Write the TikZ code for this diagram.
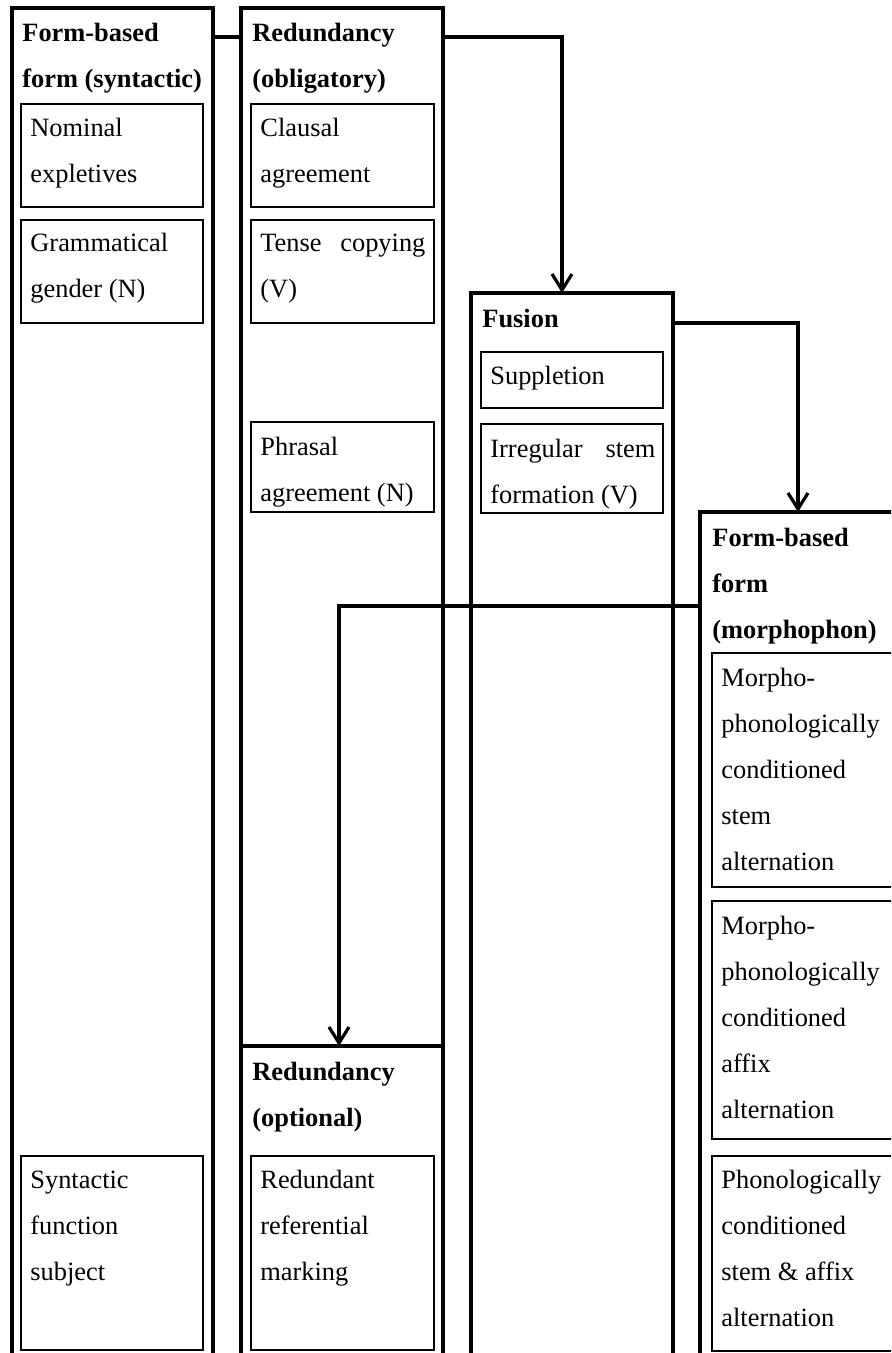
\documentclass[tikz,border=0pt]{standalone}
\usepackage{fontspec}
\setmainfont{Liberation Serif}
\usetikzlibrary{arrows.meta}
\begin{document}
\begin{tikzpicture}[x=0.5pt,y=-0.5pt,
  every node/.style={font=\fontsize{13.2pt}{23pt}\selectfont},
  obox/.style={draw, line width=1.6pt, rectangle, inner sep=0pt, outer sep=0pt, anchor=north west},
  ibox/.style={draw, line width=0.8pt, rectangle, inner sep=0pt, outer sep=0pt, anchor=north west},
  hd/.style={anchor=base west, inner sep=0pt, font=\fontsize{13.2pt}{23pt}\selectfont\bfseries},
  tx/.style={anchor=base west, inner sep=0pt},
  conn/.style={line width=1.6pt},
  arr/.style={conn, -{Straight Barb[length=8pt,width=10pt]}}]
\useasboundingbox (0,0) rectangle (891,1353);
\clip (0,0) rectangle (891,1353);
% outer boxes
\node[obox, minimum width=100.5pt, minimum height=686pt] (c1) at (12,8) {};
\node[obox, minimum width=101pt, minimum height=519pt] (c2) at (241,8) {};
\node[obox, minimum width=101pt, minimum height=167pt] (c2b) at (241,1046) {};
\node[obox, minimum width=101pt, minimum height=543.5pt] (fus) at (471,293) {};
\node[obox, minimum width=115pt, minimum height=434pt] (c4) at (700,512) {};
% inner boxes
\node[ibox, minimum width=91pt, minimum height=51.5pt] (n1a) at (21,104) {};
\node[ibox, minimum width=91pt, minimum height=51.5pt] (n1b) at (21,220) {};
\node[ibox, minimum width=91pt, minimum height=97pt] (n1c) at (21,1156) {};
\node[ibox, minimum width=91.5pt, minimum height=51.5pt] (n2a) at (251,104) {};
\node[ibox, minimum width=91.5pt, minimum height=51.5pt] (n2b) at (251,220) {};
\node[ibox, minimum width=91.5pt, minimum height=45pt] (n2c) at (251,422) {};
\node[ibox, minimum width=91.5pt, minimum height=97pt] (n2d) at (251,1156) {};
\node[ibox, minimum width=91pt, minimum height=28pt] (n3a) at (481,352) {};
\node[ibox, minimum width=91pt, minimum height=44.5pt] (n3b) at (481,424) {};
\node[ibox, minimum width=104pt, minimum height=117pt] (n4a) at (712,653) {};
\node[ibox, minimum width=104pt, minimum height=119pt] (n4b) at (712,901) {};
\node[ibox, minimum width=104pt, minimum height=97.5pt] (n4c) at (712,1156) {};
% column 1 texts
\node[hd] (h1a) at (22,42) {Form-based};
\node[hd] (h1b) at (22,88) {form (syntactic)};
\node[tx] (t1a) at (30,137) {Nominal};
\node[tx] (t1b) at (30,183) {expletives};
\node[tx] (t1c) at (30,252) {Grammatical};
\node[tx] (t1d) at (30,298) {gender (N)};
\node[tx] (t1e) at (30,1188) {Syntactic};
\node[tx] (t1f) at (30,1234) {function};
\node[tx] (t1g) at (30,1280) {subject};
% column 2 texts
\node[hd] (h2a) at (252,42) {Redundancy};
\node[hd] (h2b) at (252,88) {(obligatory)};
\node[tx] (t2a) at (260,137) {Clausal};
\node[tx] (t2b) at (260,183) {agreement};
\node[tx] (t2c) at (260,252) {\makebox[82.5pt][s]{Tense copying}};
\node[tx] (t2d) at (260,298) {(V)};
\node[tx] (t2e) at (260,455) {Phrasal};
\node[tx] (t2f) at (260,501) {agreement (N)};
\node[hd] (h2c) at (252,1080) {Redundancy};
\node[hd] (h2d) at (252,1126) {(optional)};
\node[tx] (t2g) at (260,1188) {Redundant};
\node[tx] (t2h) at (260,1234) {referential};
\node[tx] (t2i) at (260,1280) {marking};
% column 3 texts
\node[hd] (h3a) at (482,328) {Fusion};
\node[tx] (t3a) at (490,385) {Suppletion};
\node[tx] (t3b) at (490,457) {\makebox[82.5pt][s]{Irregular stem}};
\node[tx] (t3c) at (490,503) {formation (V)};
% column 4 texts
\node[hd] (h4a) at (712,546) {Form-based};
\node[hd] (h4b) at (712,592) {form};
\node[hd] (h4c) at (712,638) {(morphophon)};
\node[tx] (t4a) at (721,686) {Morpho-};
\node[tx] (t4b) at (721,732) {phonologically};
\node[tx] (t4c) at (721,778) {conditioned};
\node[tx] (t4d) at (721,824) {stem};
\node[tx] (t4e) at (721,870) {alternation};
\node[tx] (t4f) at (721,934) {Morpho-};
\node[tx] (t4g) at (721,980) {phonologically};
\node[tx] (t4h) at (721,1026) {conditioned};
\node[tx] (t4i) at (721,1072) {affix};
\node[tx] (t4j) at (721,1118) {alternation};
\node[tx] (t4k) at (721,1188) {Phonologically};
\node[tx] (t4l) at (721,1234) {conditioned};
\node[tx] (t4m) at (721,1280) {stem \& affix};
\node[tx] (t4n) at (721,1326) {alternation};
% connectors
\draw[conn] ([yshift=-14.5pt]c1.north east) -- ([yshift=-14.5pt]c2.north west);
\draw[arr] ([yshift=-14.5pt]c2.north east) -| ([xshift=-5pt]fus.north);
\draw[arr] ([yshift=-15pt]fus.north east) -| ([xshift=49pt]c4.north west);
\draw[arr] ([yshift=-47pt]c4.north west) -| ([xshift=49pt]c2b.north west);
\end{tikzpicture}
\end{document}
